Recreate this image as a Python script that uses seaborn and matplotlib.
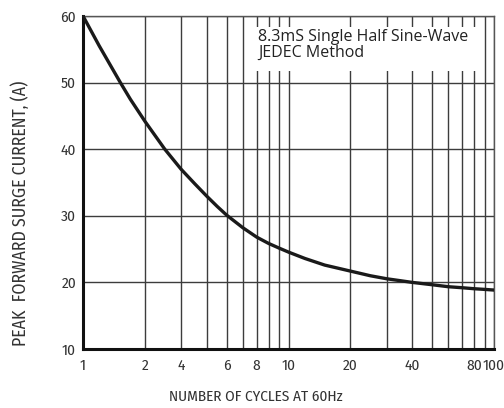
import matplotlib
matplotlib.use("Agg")
import matplotlib.pyplot as plt
from matplotlib.patches import Rectangle
from matplotlib.ticker import LogLocator, NullFormatter
import pandas as pd
import seaborn as sns

# curve
cycles = [1, 1.2, 1.52, 1.7, 2, 2.5, 3, 3.5, 4, 4.5, 5, 6, 7, 8, 9, 10,
          12, 15, 20, 25, 30, 40, 50, 60, 70, 80, 90, 100]
surge_amps = [60.0, 55.5, 50.0, 47.5, 44.2, 40.0, 37.0, 34.8, 32.95, 31.4, 30.1, 28.2, 26.8, 25.85, 25.15, 24.55,
              23.6, 22.6, 21.7, 21.0, 20.55, 20.0, 19.65, 19.35, 19.2, 19.05, 18.95, 18.85]

# tick labels as printed on the sheet (they sit on these grid lines)
x_tick_pos = [1, 2, 3, 5, 7, 10, 20, 40, 80, 100]
x_tick_labels = ["1", "2", "4", "6", "8", "10", "20", "40", "80", "100"]
y_ticks = [10, 20, 30, 40, 50, 60]

df = pd.DataFrame({"cycles": cycles, "amps": surge_amps})

sns.set_style("white")
plt.rcParams['font.family'] = ['Fira Sans Condensed', 'DejaVu Sans']

fig = plt.figure(figsize=(5.04, 4.08), dpi=100)
ax = fig.add_axes([0.1647, 0.1446, 0.8155, 0.8162])

sns.lineplot(data=df, x="cycles", y="amps", ax=ax, color="#1a1a1a", linewidth=2.4, zorder=3)

ax.set_xscale("log")
ax.set_xlim(1, 100)
ax.set_ylim(10, 60)
ax.xaxis.set_minor_locator(LogLocator(base=10, subs=range(2, 10)))
ax.xaxis.set_minor_formatter(NullFormatter())
ax.set_xticks(x_tick_pos)
ax.set_xticklabels(x_tick_labels)
ax.set_yticks(y_ticks)

# grid
ax.set_axisbelow(True)
ax.grid(which="both", axis="x", color="#3c3c3c", linewidth=1.0)
ax.grid(which="major", axis="y", color="#3c3c3c", linewidth=1.0)

# white box behind the note
ax.add_patch(Rectangle((0.418, 0.835), 0.55, 0.133, transform=ax.transAxes,
                       facecolor="white", edgecolor="none", zorder=1.5))
ax.text(0.426, 0.962, "8.3mS Single Half Sine-Wave\nJEDEC Method", transform=ax.transAxes,
        ha="left", va="top", fontsize=11.5, color="#222222", linespacing=1.05,
        family=["Open Sans", "DejaVu Sans"], zorder=4)

# spines
for side in ["left", "bottom"]:
    ax.spines[side].set_color("#111111")
    ax.spines[side].set_linewidth(2.2)
for side in ["top", "right"]:
    ax.spines[side].set_color("#555555")
    ax.spines[side].set_linewidth(1.0)

ax.tick_params(which="both", length=0)
ax.tick_params(axis="x", pad=7, labelsize=11, labelcolor="#333333")
ax.tick_params(axis="y", pad=5, labelsize=11, labelcolor="#333333")
ax.set_xlabel("")
ax.set_ylabel("")

fig.text(20 / 504, 1 - 213 / 408, "PEAK  FORWARD SURGE CURRENT, (A)", rotation=90,
         ha="center", va="center", fontsize=12.8, color="#333333")
fig.text(255.5 / 504, 1 - 397 / 408, "NUMBER OF CYCLES AT 60Hz",
         ha="center", va="center", fontsize=11, color="#333333")

fig.savefig("out.png", dpi=100)
